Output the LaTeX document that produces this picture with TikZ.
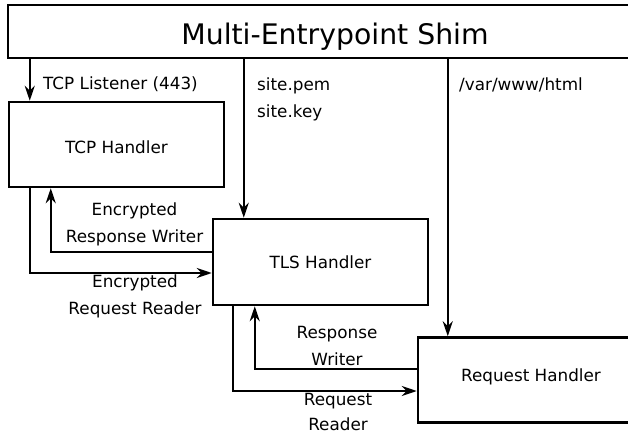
\documentclass[tikz,border=0pt]{standalone}
\usepackage{fontspec}
\setmainfont{DejaVu Sans}
\usetikzlibrary{arrows.meta,positioning}

\tikzset{
  block/.style={draw, line width=2.5pt, minimum width=215pt, minimum height=85pt,
    font=\fontsize{16.8}{27}\selectfont},
  flow/.style={-{Stealth[length=15pt,width=10pt,inset=5pt]}, line width=2.2pt},
  lbl/.style={font=\fontsize{16.8}{27}\selectfont, align=center, inner sep=0pt},
}

\begin{document}
\begin{tikzpicture}[x=1pt, y=-1pt]
	\clip (0,0) rectangle (628,435);
	\node[block, minimum width=654pt, minimum height=53pt, text height=25.6pt, text depth=0pt,
	  font=\fontsize{28.3}{34}\selectfont] (shim) at (335,31.5) {Multi-Entrypoint Shim};
	\node[block, text height=17.6pt] (tcp) at (116.5,144.5) {TCP Handler};
	\node[block, minimum height=86pt] (tls) at (320.5,262) {TLS Handler};
	\node[block, minimum width=226pt, text depth=10pt] (req) at (531,380) {Request Handler};

	\coordinate (lsn) at ([xshift=22pt]tcp.north west);
	\coordinate (pem) at ([xshift=32pt]tls.north west);
	\coordinate (www) at ([xshift=31pt]req.north west);

	\draw[flow] (shim.south -| lsn) -- (lsn);
	\draw[flow] (shim.south -| pem) -- (pem);
	\draw[flow] (shim.south -| www) -- (www);
	\draw[flow] ([xshift=22pt]tcp.south west) |- ([yshift=-11pt]tls.west);
	\draw[flow] ([yshift=10pt]tls.west) -| ([xshift=43pt]tcp.south west);
	\draw[flow] ([xshift=21pt]tls.south west) |- ([yshift=-11pt]req.west);
	\draw[flow] ([yshift=11pt]req.west) -| ([xshift=43pt]tls.south west);

	\node[lbl, anchor=west] (listener) at (43,84) {TCP Listener (443)};
	\node[lbl, anchor=west, align=left] (keys) at (257,99) {site.pem\\site.key};
	\node[lbl, anchor=west] (docroot) at (459,85) {/var/www/html};
	\node[lbl] (encresp) at (134.5,224.5) {Encrypted\\Response Writer};
	\node[lbl] (encreq) at (135,296.5) {Encrypted\\Request Reader};
	\node[lbl] (resp) at (337,346) {Response\\Writer};
	\node[lbl] (reqrd) at (338,412.25) {Request\\[-2pt]Reader};
\end{tikzpicture}
\end{document}
